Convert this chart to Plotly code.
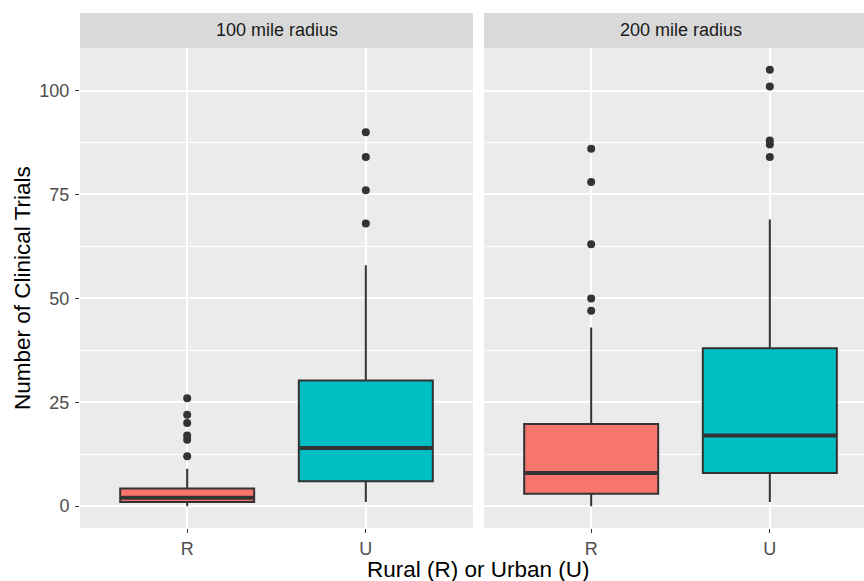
import plotly.graph_objects as go

# ---- data ----
facets = ["100 mile radius", "200 mile radius"]
categories = ["R", "U"]
fill_colors = ["#F8766D", "#00BFC4"]

q1_100 = [1, 6]
median_100 = [2, 14]
q3_100 = [4.25, 30.25]
lowerfence_100 = [0, 1]
upperfence_100 = [9, 58]
outliers_100_R = [12, 16, 17, 20, 22, 26]
outliers_100_U = [68, 76, 84, 90]

q1_200 = [3, 8]
median_200 = [8, 17]
q3_200 = [19.75, 38]
lowerfence_200 = [0, 1]
upperfence_200 = [43, 69]
outliers_200_R = [47, 50, 63, 78, 86]
outliers_200_U = [84, 87, 88, 101, 105]

yticks = [0, 25, 50, 75, 100]

panels = [
    dict(q1=q1_100, med=median_100, q3=q3_100, lo=lowerfence_100, hi=upperfence_100,
         out=[outliers_100_R, outliers_100_U]),
    dict(q1=q1_200, med=median_200, q3=q3_200, lo=lowerfence_200, hi=upperfence_200,
         out=[outliers_200_R, outliers_200_U]),
]

# ---- geometry ----
W, H = 864, 581
ML, MR, MT, MB = 80, 0, 13, 53
PW = W - ML - MR
PH = H - MT - MB
panel_w = 393
panel2_left = 484
strip_h = 35
unit_px = panel_w / 2.2

def px_to_paper_x(px):
    return (px - ML) / PW

def px_to_paper_y(py):
    return (H - MB - py) / PH

ydom_top = (PH - strip_h) / PH
dom1 = [0, panel_w / PW]
dom2 = [px_to_paper_x(panel2_left), 1]
x2_max = 0.4 + (W - panel2_left) / unit_px

DARK = "#333333"
box_w = 0.75

fig = go.Figure()

for pi, p in enumerate(panels):
    xa = "x" if pi == 0 else "x2"
    ya = "y" if pi == 0 else "y2"
    for ci, cat in enumerate(categories):
        pos = ci + 1
        fig.add_trace(go.Box(
            x=[pos], q1=[p["q1"][ci]], median=[p["med"][ci]], q3=[p["q3"][ci]],
            lowerfence=[p["lo"][ci]], upperfence=[p["hi"][ci]],
            width=box_w, whiskerwidth=0, boxpoints=False,
            fillcolor=fill_colors[ci], line=dict(color=DARK, width=2),
            xaxis=xa, yaxis=ya, showlegend=False, name=cat,
        ))
        # thick median line (ggplot style)
        fig.add_trace(go.Scatter(
            x=[pos - box_w / 2 + 0.005, pos + box_w / 2 - 0.005],
            y=[p["med"][ci], p["med"][ci]],
            mode="lines", line=dict(color=DARK, width=4),
            xaxis=xa, yaxis=ya, showlegend=False, hoverinfo="skip",
        ))
        outs = p["out"][ci]
        fig.add_trace(go.Scatter(
            x=[pos] * len(outs), y=outs, mode="markers",
            marker=dict(color=DARK, size=8, line=dict(width=0)),
            xaxis=xa, yaxis=ya, showlegend=False,
        ))

font_family = "Liberation Sans, Arial, Helvetica, sans-serif"
tickfont = dict(family=font_family, size=18, color="#4D4D4D")

common_x = dict(
    tickmode="array", tickvals=[1, 2], ticktext=categories,
    showgrid=True, gridcolor="white", gridwidth=1.8,
    zeroline=False, showline=False,
    ticks="outside", ticklen=4, tickwidth=1.2, tickcolor=DARK,
    tickfont=tickfont,
)
common_y = dict(
    range=[-5.25, 110.25], tickmode="array", tickvals=yticks,
    showgrid=True, gridcolor="white", gridwidth=1.8,
    minor=dict(tickmode="array", tickvals=[12.5, 37.5, 62.5, 87.5],
               showgrid=True, gridcolor="white", gridwidth=0.9, ticks=""),
    zeroline=False, showline=False,
    domain=[0, ydom_top],
)

fig.update_layout(
    width=W, height=H,
    margin=dict(l=ML, r=MR, t=MT, b=MB, pad=0),
    paper_bgcolor="white", plot_bgcolor="#EBEBEB",
    font=dict(family=font_family),
    xaxis=dict(domain=dom1, range=[0.4, 2.6], anchor="y", **common_x),
    xaxis2=dict(domain=dom2, range=[0.4, x2_max], anchor="y2", **common_x),
    yaxis=dict(anchor="x", ticks="outside", ticklen=4, tickwidth=1.2, tickcolor=DARK,
               ticklabelstandoff=2, tickfont=tickfont, **common_y),
    yaxis2=dict(anchor="x2", showticklabels=False, ticks="", **common_y),
    showlegend=False,
)

# strips
strip_bottom = ydom_top
for dom, label, center_px in [
    (dom1, facets[0], ML + panel_w / 2),
    (dom2, facets[1], panel2_left + panel_w / 2),
]:
    fig.add_shape(type="rect", xref="paper", yref="paper",
                  x0=dom[0], x1=dom[1], y0=strip_bottom, y1=1,
                  fillcolor="#D9D9D9", line=dict(width=0), layer="below")
    fig.add_annotation(xref="paper", yref="paper",
                       x=px_to_paper_x(center_px), y=(strip_bottom + 1) / 2,
                       text=label, showarrow=False, xanchor="center", yanchor="middle",
                       font=dict(family=font_family, size=18, color="#1A1A1A"))

# axis titles
fig.add_annotation(xref="paper", yref="paper",
                   x=px_to_paper_x((ML + panel2_left + panel_w) / 2), y=px_to_paper_y(569),
                   text="Rural (R) or Urban (U)", showarrow=False,
                   xanchor="center", yanchor="middle",
                   font=dict(family=font_family, size=22.5, color="black"))
fig.add_annotation(xref="paper", yref="paper",
                   x=px_to_paper_x(22), y=px_to_paper_y((48 + 528) / 2),
                   text="Number of Clinical Trials", showarrow=False, textangle=-90,
                   xanchor="center", yanchor="middle",
                   font=dict(family=font_family, size=22.5, color="black"))

fig.write_html("out.html")
